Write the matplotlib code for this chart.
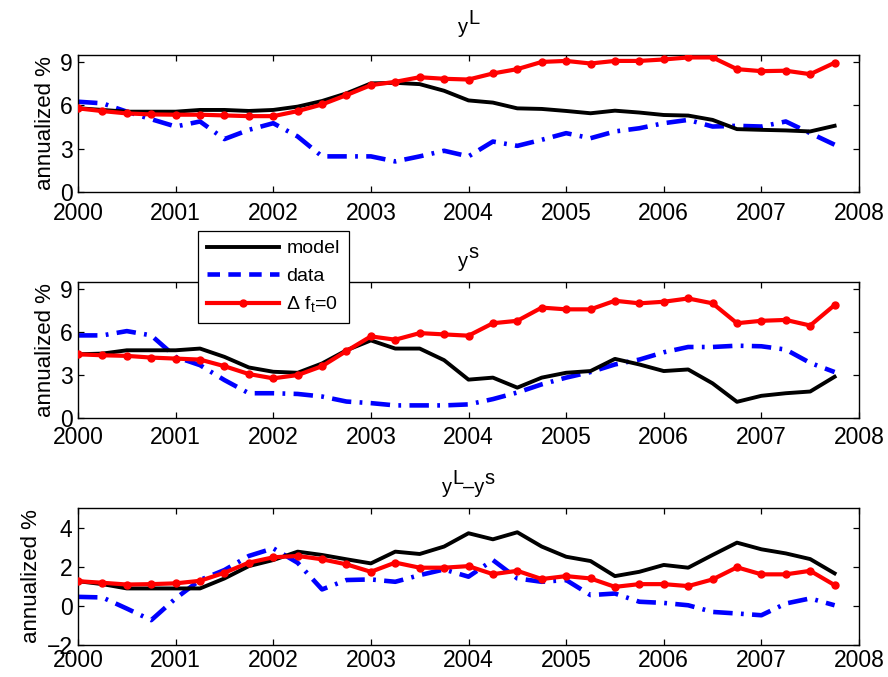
import numpy as np
import matplotlib
matplotlib.use("Agg")
import matplotlib.pyplot as plt
from matplotlib.lines import Line2D

plt.rcParams['font.family'] = ['Liberation Sans', 'DejaVu Sans']
plt.rcParams['mathtext.fontset'] = 'custom'
plt.rcParams['mathtext.rm'] = 'Liberation Sans'
plt.rcParams['mathtext.it'] = 'Liberation Sans'
plt.rcParams['lines.scale_dashes'] = False

# quarterly dates, 2000Q1 .. 2007Q4
dates = 2000 + np.arange(32) / 4.0

# long yield y^L
yL_model = [5.81, 5.69, 5.57, 5.57, 5.57, 5.69, 5.69, 5.62, 5.69, 5.92, 6.31, 6.84,
            7.53, 7.57, 7.48, 7.02, 6.35, 6.20, 5.80, 5.76, 5.62, 5.46, 5.64, 5.51,
            5.34, 5.30, 5.00, 4.36, 4.31, 4.27, 4.20, 4.59]
yL_data = [6.26, 6.15, 5.57, 5.05, 4.54, 4.89, 3.67, 4.31, 4.77, 3.85, 2.47, 2.47,
           2.47, 2.12, 2.47, 2.86, 2.47, 3.50, 3.20, 3.62, 4.08, 3.73, 4.20, 4.42,
           4.77, 5.00, 4.54, 4.59, 4.54, 4.89, 4.08, 3.28]
yL_nofx = [5.80, 5.61, 5.45, 5.38, 5.36, 5.36, 5.31, 5.26, 5.26, 5.61, 6.07, 6.72,
           7.41, 7.64, 7.96, 7.85, 7.80, 8.22, 8.52, 9.02, 9.09, 8.91, 9.09, 9.09,
           9.19, 9.33, 9.33, 8.52, 8.38, 8.41, 8.17, 8.96]

# short yield y^s
ys_model = [4.45, 4.50, 4.73, 4.73, 4.73, 4.85, 4.27, 3.53, 3.23, 3.16, 3.81, 4.73,
            5.42, 4.85, 4.85, 4.04, 2.68, 2.82, 2.12, 2.82, 3.16, 3.28, 4.13, 3.74,
            3.28, 3.39, 2.42, 1.13, 1.55, 1.73, 1.85, 2.88]
ys_data = [5.77, 5.77, 6.07, 5.77, 4.27, 3.69, 2.65, 1.73, 1.73, 1.68, 1.50, 1.15,
           1.04, 0.88, 0.88, 0.88, 0.95, 1.32, 1.78, 2.35, 2.82, 3.21, 3.74, 4.08,
           4.59, 4.96, 4.96, 5.05, 5.01, 4.78, 3.85, 3.21]
ys_nofx = [4.45, 4.38, 4.34, 4.22, 4.15, 4.08, 3.62, 3.07, 2.77, 3.00, 3.62, 4.68,
           5.70, 5.47, 5.93, 5.84, 5.75, 6.62, 6.79, 7.71, 7.59, 7.59, 8.19, 8.01,
           8.12, 8.35, 8.01, 6.62, 6.79, 6.85, 6.46, 7.89]

# spread y^L - y^s
sp_model = [1.26, 1.11, 0.89, 0.89, 0.89, 0.89, 1.40, 2.03, 2.34, 2.77, 2.60, 2.38,
            2.17, 2.77, 2.65, 3.03, 3.71, 3.40, 3.76, 3.03, 2.51, 2.29, 1.52, 1.74,
            2.09, 1.95, 2.60, 3.23, 2.89, 2.68, 2.39, 1.66]
sp_data = [0.46, 0.43, -0.14, -0.73, 0.38, 1.32, 1.83, 2.55, 2.94, 2.20, 0.84, 1.32,
           1.35, 1.23, 1.57, 1.86, 1.49, 2.34, 1.40, 1.23, 1.32, 0.55, 0.63, 0.21,
           0.15, 0.03, -0.31, -0.39, -0.48, 0.12, 0.38, 0.03]
sp_nofx = [1.26, 1.18, 1.09, 1.11, 1.15, 1.28, 1.69, 2.21, 2.48, 2.55, 2.38, 2.12,
           1.74, 2.21, 1.95, 1.95, 2.03, 1.62, 1.79, 1.37, 1.52, 1.40, 0.97, 1.11,
           1.11, 1.01, 1.35, 1.97, 1.61, 1.61, 1.79, 1.06]

# titles as (text, superscript?) pieces
titles = [
    [('y', False), ('L', True)],
    [('y', False), ('s', True)],
    [('y', False), ('L', True), ('\u2013y', False), ('s', True)],
]
series = [(yL_model, yL_data, yL_nofx), (ys_model, ys_data, ys_nofx),
          (sp_model, sp_data, sp_nofx)]
ylims = [(0, 9.5), (0, 9.5), (-2, 5)]
yticks = [[0, 3, 6, 9], [0, 3, 6, 9], [-2, 0, 2, 4]]

W, H = 888, 677
fig = plt.figure(figsize=(W / 100, H / 100), dpi=100)
x0, x1 = 78, 859
boxes = [(55, 192), (282, 418), (508, 645)]   # top, bottom in pixels
title_gap = [22, 15, 15]
xpads = [7.5, 5.5, 3.0]

blue_dash = (14, 6, 2, 6)

for (m, d, nf), ylim, yt, (top, bot), xp in zip(series, ylims, yticks, boxes, xpads):
    ax = fig.add_axes([x0 / W, 1 - bot / H, (x1 - x0) / W, (bot - top) / H])
    ax.plot(dates, m, color='black', lw=2.8, zorder=3)
    ax.plot(dates, d, color='blue', lw=3.3, dashes=blue_dash, zorder=2)
    ax.plot(dates, nf, color='red', lw=3.0, marker='o', ms=5, zorder=4)
    ax.set_xlim(2000, 2008)
    ax.set_ylim(*ylim)
    ax.set_xticks(range(2000, 2009))
    ax.set_yticks(yt)
    ax.tick_params(direction='in', top=True, right=True, labelsize=16.5,
                   length=4.5, width=0.9)
    ax.tick_params(axis='x', pad=xp)
    ax.tick_params(axis='y', pad=4)
    for s in ax.spines.values():
        s.set_linewidth(1.0)
    ax.set_ylabel('annualized %', fontsize=16, labelpad=3)

# titles with full-size superscripts (MATLAB style)
renderer = fig.canvas.get_renderer()
fs_title = 14.5
for pieces, (top, bot), gap in zip(titles, boxes, title_gap):
    widths = []
    for txt, sup in pieces:
        t = fig.text(0, 0, txt, fontsize=fs_title)
        widths.append(t.get_window_extent(renderer).width)
        t.remove()
    cx = (x0 + x1) / 2 - sum(widths) / 2
    base = top - gap
    for (txt, sup), w in zip(pieces, widths):
        yy = base - (9 if sup else 0)
        fig.text(cx / W, 1 - yy / H, txt, fontsize=fs_title, va='baseline', ha='left')
        cx += w

handles = [
    Line2D([], [], color='black', lw=2.8),
    Line2D([], [], color='blue', lw=3.3, dashes=(9, 6)),
    Line2D([], [], color='red', lw=3.0, marker='o', ms=5),
]
labels = ['model', 'data', '\u0394 f$_{\\mathrm{t}}$=0']
leg = fig.legend(handles, labels, loc='upper left',
                 bbox_to_anchor=(198 / W, 1 - 231 / H),
                 fontsize=14, frameon=True, fancybox=False, edgecolor='black',
                 framealpha=1, handlelength=3.7, numpoints=1, borderpad=0.45,
                 labelspacing=0.5, handletextpad=0.4, borderaxespad=0)
leg.get_frame().set_linewidth(0.9)

fig.savefig('out.png', dpi=100)
